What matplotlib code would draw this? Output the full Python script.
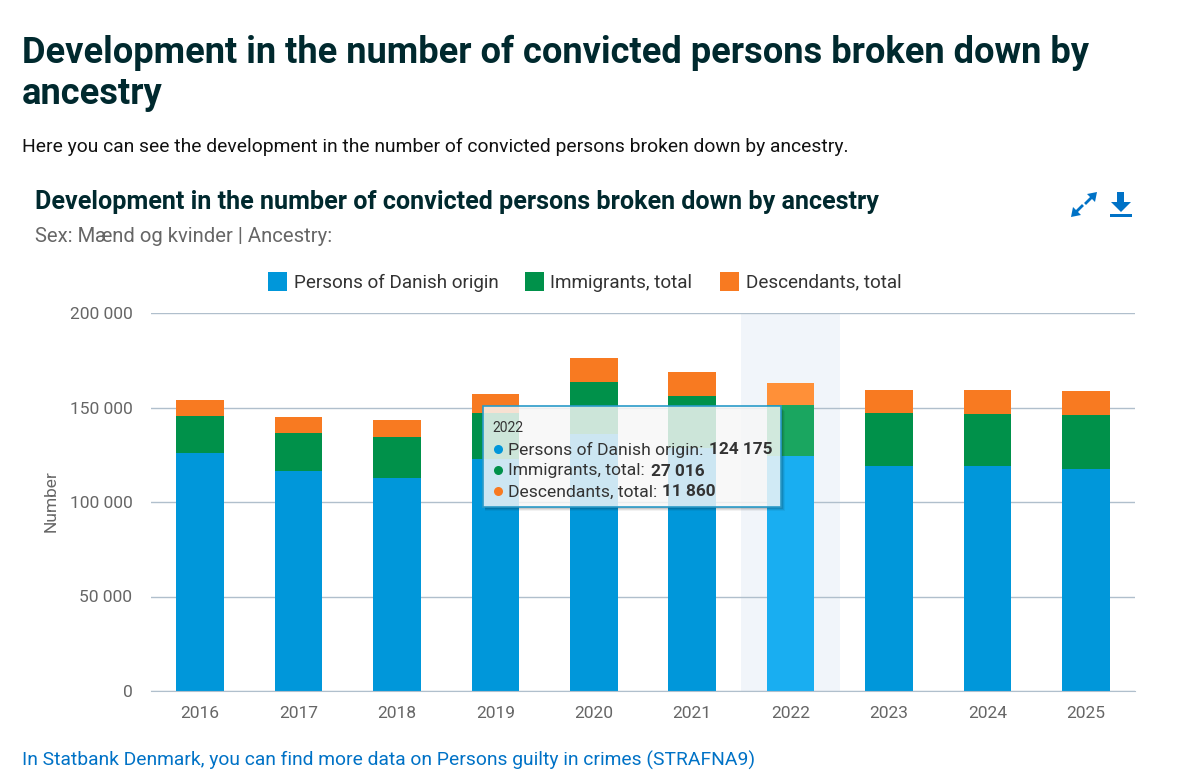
import matplotlib
matplotlib.use('Agg')
import matplotlib.pyplot as plt
from matplotlib.patches import Rectangle, Polygon
from matplotlib.lines import Line2D
import numpy as np

W, H = 1195, 779

years = ['2016', '2017', '2018', '2019', '2020', '2021', '2022', '2023', '2024', '2025']
danish = [125900, 116400, 112700, 122700, 136000, 128500, 124175, 119000, 119000, 117500]
immigrants = [19600, 20100, 21700, 24300, 27500, 27500, 27016, 28000, 27500, 28500]
descendants = [8500, 8500, 9000, 10000, 12700, 12800, 11860, 12200, 12700, 12500]
y_ticks = [0, 50000, 100000, 150000, 200000]
y_labels = ['0', '50 000', '100 000', '150 000', '200 000']
series_names = ['Persons of Danish origin', 'Immigrants, total', 'Descendants, total']
colors = ['#0097DA', '#00914A', '#F87A21']
light_colors = ['#19AEF1', '#1AA660', '#FF9038']
hover_index = 6

plt.rcParams['font.family'] = ['Roboto', 'DejaVu Sans']

fig = plt.figure(figsize=(W / 100, H / 100), dpi=100)


# pixel -> figure coords
def fx(px):
    return px / W


def fy(py):
    return 1 - py / H


def ftext(px, py, s, **kw):
    kw.setdefault('va', 'center')
    return fig.text(fx(px), fy(py), s, **kw)


# headings
ftext(22, 52.5, 'Development in the number of convicted persons broken down by', fontsize=26.1,
      fontweight='bold', color='#00292E')
ftext(22, 94.5, 'ancestry', fontsize=26.1, fontweight='bold', color='#00292E')
ftext(22, 146.5, 'Here you can see the development in the number of convicted persons broken down by ancestry.',
      fontsize=13.9, color='#111111')
ftext(35, 201.5, 'Development in the number of convicted persons broken down by ancestry', fontsize=18.1,
      fontweight='bold', color='#00292E')
ftext(35, 236, 'Sex: Mænd og kvinder | Ancestry:', fontsize=14.6, color='#666666')
ftext(22, 760.5, 'In Statbank Denmark, you can find more data on Persons guilty in crimes (STRAFNA9)',
      fontsize=13.9, color='#0072C6')

# plot area
ax = fig.add_axes([fx(151), fy(691), (1135 - 151) / W, (691 - 313) / H])
x = np.arange(len(years))
ax.set_xlim(-0.5, len(years) - 0.5)
ax.set_ylim(0, 200000)
ax.axvspan(hover_index - 0.5, hover_index + 0.5, color='#F1F5FA', zorder=0, lw=0)
ax.yaxis.grid(True, color='#B0BFCC', lw=1)
ax.set_axisbelow(True)

bottom = np.zeros(len(years))
for vals, col, lcol in zip([danish, immigrants, descendants], colors, light_colors):
    bar_cols = [lcol if i == hover_index else col for i in range(len(years))]
    ax.bar(x, vals, width=0.485, bottom=bottom, color=bar_cols, zorder=2, lw=0)
    bottom = bottom + np.array(vals)

for s in ['top', 'left', 'right']:
    ax.spines[s].set_visible(False)
ax.spines['bottom'].set_color('#B0BFCC')
ax.set_xticks(x)
ax.set_xticklabels(years)
ax.set_yticks(y_ticks)
ax.set_yticklabels(y_labels)
ax.tick_params(axis='x', length=0, pad=10.5, labelsize=12.5, labelcolor='#666666')
ax.tick_params(axis='y', length=0, pad=13.5, labelsize=12.5, labelcolor='#666666')
ftext(51, 501, 'Number', fontsize=12.5, color='#666666', rotation=90, ha='center')

# legend
legend_x = [268, 525, 720]
for px, name, col in zip(legend_x, series_names, colors):
    fig.add_artist(Rectangle((fx(px), fy(291)), 19 / W, 19 / H, transform=fig.transFigure, color=col, lw=0))
    ftext(px + 25.5, 282.5, name, fontsize=13.6, color='#333333')

# tooltip, shadow only on the right and bottom edge
for off, a in [(4, 0.05), (3, 0.08), (2, 0.1), (1, 0.12)]:
    fig.add_artist(Rectangle((fx(485), fy(507 + off)), 296 / W, off / H, transform=fig.transFigure,
                             facecolor='#000000', alpha=a, lw=0, zorder=5))
    fig.add_artist(Rectangle((fx(781), fy(507 + off)), off / W, 100 / H, transform=fig.transFigure,
                             facecolor='#000000', alpha=a, lw=0, zorder=5))
fig.add_artist(Rectangle((fx(483), fy(507)), 298 / W, 101 / H, transform=fig.transFigure,
                         facecolor='#F7F7F7', alpha=0.83, lw=0, zorder=6))
fig.add_artist(Rectangle((fx(483), fy(507)), 298 / W, 101 / H, transform=fig.transFigure,
                         facecolor='none', edgecolor='#2A9BC9', lw=1.2, zorder=6))
ftext(492, 428.5, years[hover_index], fontsize=10, color='#333333', zorder=7)
tip_rows = [(450, series_names[0], '124 175', 709), (471, series_names[1], '27 016', 651),
            (492, series_names[2], '11 860', 662)]
for (py, name, val, vx), col in zip(tip_rows, colors):
    fig.add_artist(Line2D([fx(498)], [fy(py - 1)], marker='o', ms=6.5, color=col, mew=0, transform=fig.transFigure,
                          zorder=7))
    ftext(508, py, name + ':', fontsize=12.6, color='#333333', zorder=7)
    ftext(vx, py, val, fontsize=12.4, fontweight='bold', color='#333333', zorder=7)

# icons
icon_col = '#0072C6'


def poly(points):
    fig.add_artist(Polygon([(fx(a), fy(b)) for a, b in points], closed=True, transform=fig.transFigure,
                           facecolor=icon_col, lw=0))


poly([(1097, 192), (1087, 194), (1095, 202)])
poly([(1071, 217), (1081, 215), (1073, 207)])
fig.add_artist(Line2D([fx(1077), fx(1082)], [fy(211), fy(206)], color=icon_col, lw=2, transform=fig.transFigure))
fig.add_artist(Line2D([fx(1086), fx(1091)], [fy(203), fy(198)], color=icon_col, lw=2, transform=fig.transFigure))
poly([(1117, 192), (1124, 192), (1124, 202), (1131, 202), (1121, 212), (1111, 202), (1117, 202)])
fig.add_artist(Rectangle((fx(1110), fy(216.5)), 22 / W, 3 / H, transform=fig.transFigure, color=icon_col, lw=0))

fig.savefig('out.png', dpi=100)
